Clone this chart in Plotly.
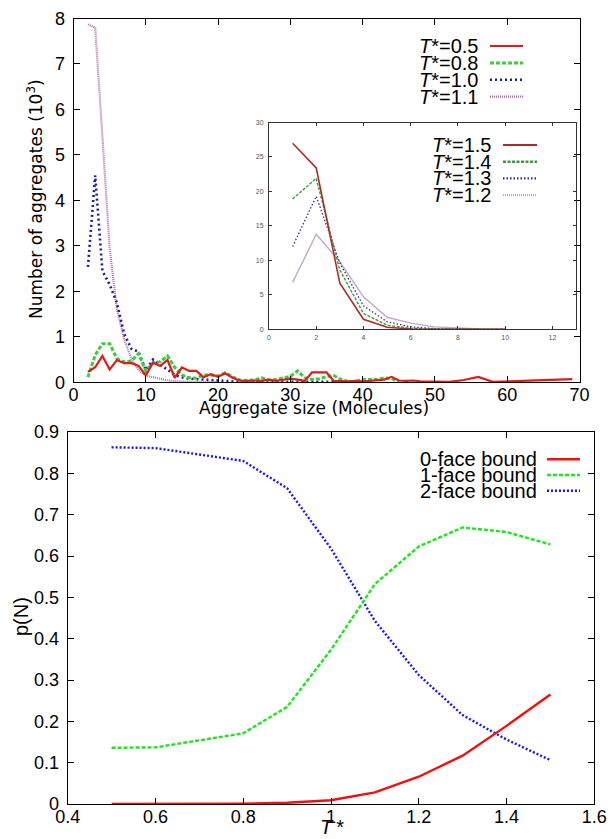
import plotly.graph_objects as go

# ---------------- data: top panel (main) ----------------
size_05 = list(range(2, 49)) + [50, 52, 54, 56, 58, 60, 63, 66, 69]
n_05 = [0.23, 0.33, 0.58, 0.28, 0.49, 0.42, 0.42, 0.36, 0.15, 0.43, 0.36, 0.49,
        0.10, 0.33, 0.25, 0.25, 0.11, 0.18, 0.12, 0.20, 0.10, 0.04, 0.03, 0.04,
        0.03, 0.06, 0.03, 0.05, 0.08, 0.06, 0.03, 0.22, 0.22, 0.22, 0.03, 0.02,
        0.02, 0.03, 0.02, 0.03, 0.04, 0.06, 0.12, 0.04, 0.03, 0.04, 0.02,
        0.01, 0.01, 0.05, 0.12, 0.01, 0.02, 0.03, 0.05, 0.07]

size_08 = list(range(2, 46))
n_08 = [0.11, 0.60, 0.85, 0.85, 0.52, 0.45, 0.47, 0.63, 0.25, 0.43, 0.45, 0.58,
        0.33, 0.16, 0.10, 0.09, 0.16, 0.16, 0.14, 0.21, 0.12, 0.05, 0.04, 0.05,
        0.10, 0.05, 0.06, 0.09, 0.13, 0.25, 0.10, 0.06, 0.08, 0.12, 0.15, 0.06,
        0.02, 0.02, 0.06, 0.06, 0.06, 0.10, 0.08, 0.01]

size_10 = list(range(2, 37))
n_10 = [2.54, 4.55, 2.45, 2.15, 1.75, 1.07, 0.74, 0.67, 0.27, 0.50, 0.38, 0.28,
        0.16, 0.11, 0.08, 0.07, 0.06, 0.05, 0.03, 0.02, 0.01, 0.01, 0.01, 0.01,
        0.01, 0.01, 0.01, 0.01, 0.01, 0.01, 0.01, 0.01, 0.01, 0.01, 0.01]

size_11 = list(range(2, 21))
n_11 = [7.87, 7.80, 5.40, 2.95, 1.62, 0.95, 0.52, 0.27, 0.15, 0.11, 0.07, 0.04,
        0.025, 0.015, 0.01, 0.01, 0.01, 0.01, 0.01]

# ---------------- data: inset ----------------
size_in = [1, 2, 3, 4, 5, 6, 7, 8, 9, 10]
n_15 = [27.0, 23.4, 6.7, 1.45, 0.30, 0.05, 0.0, 0.0, 0.0, 0.0]
n_14 = [18.9, 21.9, 8.6, 2.3, 0.60, 0.15, 0.05, 0.0, 0.0, 0.0]
n_13 = [12.0, 19.3, 9.6, 3.4, 1.10, 0.35, 0.10, 0.03, 0.0, 0.0]
n_12 = [6.8, 13.8, 9.8, 4.7, 1.75, 0.90, 0.35, 0.15, 0.05, 0.02]

# ---------------- data: bottom panel ----------------
T_star = [0.5, 0.6, 0.8, 0.9, 1.0, 1.1, 1.2, 1.3, 1.4, 1.5]
p0 = [0.0, 0.0, 0.001, 0.003, 0.009, 0.028, 0.066, 0.117, 0.189, 0.265]
p1 = [0.136, 0.137, 0.171, 0.235, 0.373, 0.532, 0.623, 0.669, 0.658, 0.628]
p2 = [0.863, 0.861, 0.830, 0.764, 0.618, 0.443, 0.312, 0.215, 0.156, 0.106]

top_xticks = [0, 10, 20, 30, 40, 50, 60, 70]
top_yticks = [0, 1, 2, 3, 4, 5, 6, 7, 8]
in_xticks = [0, 2, 4, 6, 8, 10, 12]
in_yticks = [0, 5, 10, 15, 20, 25, 30]
bot_xticks = [0.4, 0.6, 0.8, 1.0, 1.2, 1.4, 1.6]
bot_xlabels = ["0.4", "0.6", "0.8", "1", "1.2", "1.4", "1.6"]
bot_yticks = [0, 0.1, 0.2, 0.3, 0.4, 0.5, 0.6, 0.7, 0.8, 0.9]
bot_ylabels = ["0", "0.1", "0.2", "0.3", "0.4", "0.5", "0.6", "0.7", "0.8", "0.9"]

W, H = 612, 839
def fx(px): return px / W
def fy(py): return 1 - py / H

SANS = "Liberation Sans, Arial, sans-serif"
DEJA = "DejaVu Sans, sans-serif"

# styles
top_styles = {
    "05": dict(color="#dd1c1c", width=2.2, dash="solid"),
    "08": dict(color="#3ccc3c", width=3, dash="4px,2px"),
    "10": dict(color="#1c1ca0", width=2.6, dash="2px,3px"),
    "11": dict(color="#b070b0", width=2.2, dash="1px,1px"),
}
in_styles = {
    "15": dict(color="#b02a2a", width=1.6, dash="solid"),
    "14": dict(color="#3e9a3e", width=1.4, dash="3px,1.5px"),
    "13": dict(color="#30308a", width=1.3, dash="1.5px,2px"),
    "12": dict(color="#c4a8c4", width=1.4, dash="solid"),
}
bot_styles = {
    "0": dict(color="#f01010", width=2.4, dash="solid"),
    "1": dict(color="#1ee61e", width=2.4, dash="4px,2px"),
    "2": dict(color="#1414ff", width=2.4, dash="2px,2px"),
}

fig = go.Figure()

def add(x, y, style, xa, ya):
    fig.add_trace(go.Scatter(x=x, y=y, mode="lines", line=style,
                             xaxis=xa, yaxis=ya, showlegend=False,
                             hoverinfo="skip"))

add(size_11, n_11, top_styles["11"], "x", "y")
add(size_10, n_10, top_styles["10"], "x", "y")
add(size_08, n_08, top_styles["08"], "x", "y")
add(size_05, n_05, top_styles["05"], "x", "y")

add(size_in, n_12, in_styles["12"], "x2", "y2")
add(size_in, n_13, in_styles["13"], "x2", "y2")
add(size_in, n_14, in_styles["14"], "x2", "y2")
add(size_in, n_15, in_styles["15"], "x2", "y2")

add(T_star, p2, bot_styles["2"], "x3", "y3")
add(T_star, p1, bot_styles["1"], "x3", "y3")
add(T_star, p0, bot_styles["0"], "x3", "y3")

def axis(domain, rng, tickvals, ticktext=None, anchor=None, size=18,
         color="black", ticklen=6, linecolor="black", standoff=4):
    d = dict(domain=domain, range=rng, tickvals=tickvals, ticks="inside",
             ticklen=ticklen, tickcolor=linecolor, mirror="allticks",
             showline=True, linecolor=linecolor, linewidth=1,
             showgrid=False, zeroline=False, anchor=anchor, automargin=False,
             tickfont=dict(family=SANS, size=size, color=color),
             ticklabelstandoff=standoff)
    if ticktext is not None:
        d["ticktext"] = ticktext
    return d

layout = dict(
    width=W, height=H, margin=dict(l=0, r=0, t=0, b=0, pad=0, autoexpand=False),
    paper_bgcolor="white", plot_bgcolor="rgba(0,0,0,0)",
    xaxis=axis([fx(73.5), fx(579.5)], [0, 70], top_xticks, anchor="y", standoff=-4),
    yaxis=axis([fy(382.3), fy(18.5)], [0, 8], top_yticks, anchor="x"),
    xaxis2=axis([fx(269), fx(576)], [0, 13], in_xticks, anchor="y2", size=7,
                color="#555555", ticklen=3, linecolor="#333333", standoff=1),
    yaxis2=axis([fy(329.3), fy(122.5)], [0, 30], in_yticks, anchor="x2", size=7,
                color="#555555", ticklen=3, linecolor="#333333", standoff=3),
    xaxis3=axis([fx(67.7), fx(594.3)], [0.4, 1.6], bot_xticks, bot_xlabels,
                anchor="y3", standoff=-4),
    yaxis3=axis([fy(804), fy(432)], [0, 0.9], bot_yticks, bot_ylabels, anchor="x3"),
)
fig.update_layout(**layout)

ann = []
shapes = []

def title(text, px, py, size, family, angle=0):
    ann.append(dict(text=text, x=fx(px), y=fy(py), xref="paper", yref="paper",
                    xanchor="center", yanchor="middle", showarrow=False,
                    textangle=angle,
                    font=dict(family=family, size=size, color="black")))

title("Aggregate size (Molecules)", 313.5, 408, 17, DEJA)
title("Number of aggregates (10<sup>3</sup>)", 35, 199, 17, DEJA, -90)
title("<i>T</i>\u2009*", 332, 827, 20, SANS)
title("p(N)", 21, 617, 20, SANS, -90)

def legend(labels, styles, text_right, y0, dy, sx0, sx1, size):
    for i, (lab, st) in enumerate(zip(labels, styles)):
        yy = y0 + i * dy
        ann.append(dict(text=lab, x=fx(text_right), y=fy(yy), xref="paper",
                        yref="paper", xanchor="right", yanchor="middle",
                        showarrow=False,
                        font=dict(family=SANS, size=size, color="black")))
        shapes.append(dict(type="line", xref="paper", yref="paper",
                           x0=fx(sx0), x1=fx(sx1), y0=fy(yy), y1=fy(yy),
                           line=dict(color=st["color"], width=st["width"],
                                     dash=st["dash"])))

legend(["<i>T</i>*=0.5", "<i>T</i>*=0.8", "<i>T</i>*=1.0", "<i>T</i>*=1.1"],
       [top_styles[k] for k in ["05", "08", "10", "11"]],
       480, 46, 16.9, 490, 523, 20)
legend(["<i>T</i>*=1.5", "<i>T</i>*=1.4", "<i>T</i>*=1.3", "<i>T</i>*=1.2"],
       [dict(in_styles["15"], width=2.2), dict(in_styles["14"], width=2.6),
        dict(in_styles["13"], width=2.2), dict(in_styles["12"], width=2.0, dash="1px,1px")],
       493, 145, 16.7, 503, 537, 20)
legend(["0-face bound", "1-face bound", "2-face bound"],
       [bot_styles[k] for k in ["0", "1", "2"]],
       539, 459.3, 15.7, 547, 580, 20)

fig.update_layout(annotations=ann, shapes=shapes)
fig.write_html("out.html", config={"displayModeBar": False},
               post_script="document.body.style.margin='0';document.body.style.overflow='hidden';")
